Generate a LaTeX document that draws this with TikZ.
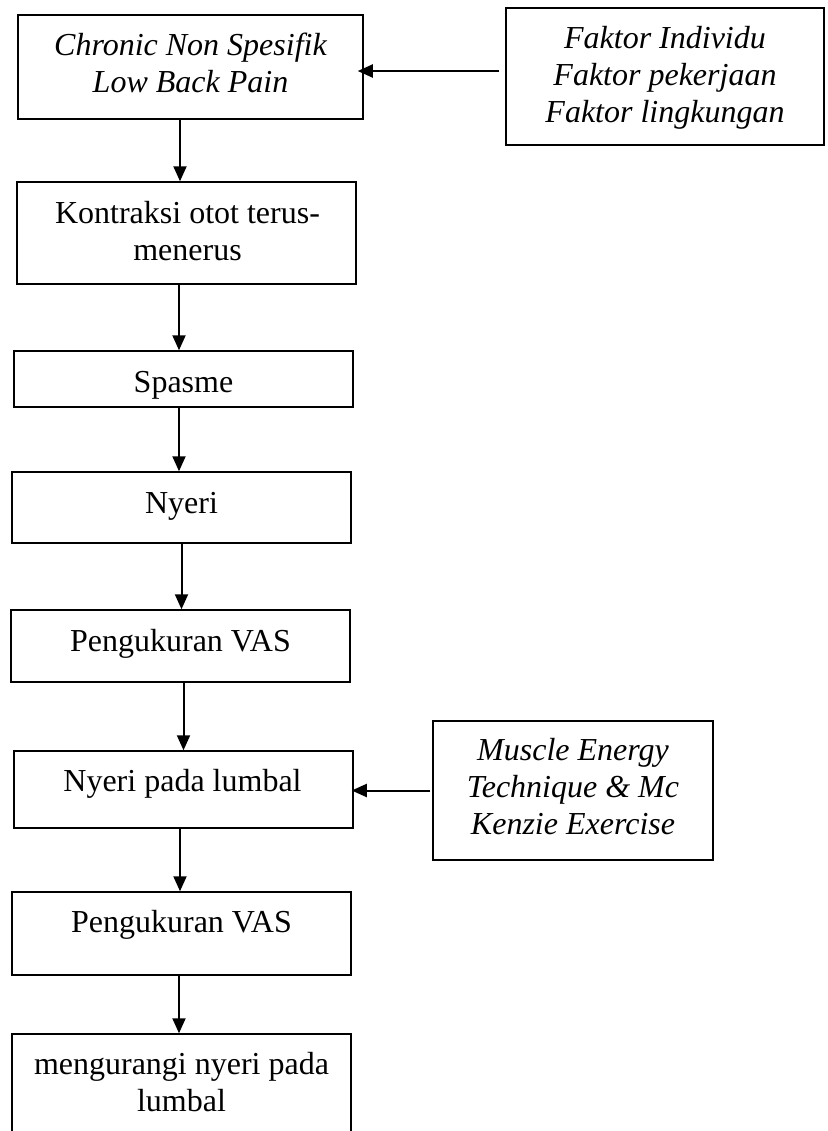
\documentclass[tikz,border=0pt]{standalone}
\usepackage{fontspec}
\setmainfont{Liberation Serif}
\usetikzlibrary{arrows.meta}
\begin{document}
\begin{tikzpicture}[x=0.5pt,y=-0.5pt,
  box/.style={draw=black, line width=0.75pt, rectangle, inner sep=0pt, minimum width=169.5pt},
  txt/.style={anchor=base, align=center, inner sep=0pt, font=\fontsize{16}{18.5}\selectfont},
  itxt/.style={txt, font=\fontsize{16}{18.5}\selectfont\itshape},
  arr/.style={line width=1pt, -{Triangle[length=7.5pt,width=6.5pt]}}]
\useasboundingbox (0,0) rectangle (828,1131);
\clip (0,0) rectangle (828,1131);
% boxes
\node[box, minimum width=172.5pt, minimum height=52pt] (b1) at (190.5,67) {};
\node[box, minimum width=159pt, minimum height=68.5pt] (f) at (665,76.5) {};
\node[box, minimum height=51pt] (b2) at (186.5,233) {};
\node[box, minimum height=28pt] (b3) at (183.5,379) {};
\node[box, minimum height=35.5pt] (b4) at (181.5,507.5) {};
\node[box, minimum height=36pt] (b5) at (180.5,646) {};
\node[box, minimum height=38.5pt] (b6) at (183.5,789.5) {};
\node[box, minimum width=140pt, minimum height=69.5pt] (m) at (573,790.5) {};
\node[box, minimum height=41.5pt] (b7) at (181.5,933.5) {};
\node[box, minimum height=58pt] (b8) at (181.5,1092) {};
% texts (base anchor = baseline of the last line)
\node[itxt] (t1) at (190.5,92) {Chronic Non Spesifik\\Low Back Pain};
\node[itxt] (tf) at (665,122) {Faktor Individu\\Faktor pekerjaan\\Faktor lingkungan};
\node[txt] (t2) at (187.5,260) {Kontraksi otot terus-\\menerus};
\node[txt] (t3) at (183.5,392) {Spasme};
\node[txt] (t4) at (181.5,513) {Nyeri};
\node[txt] (t5) at (180.5,651) {Pengukuran VAS};
\node[txt] (t6) at (182.5,791) {Nyeri pada lumbal};
\node[itxt] (tm) at (573,834) {Muscle Energy\\Technique \& Mc\\Kenzie Exercise};
\node[txt] (t7) at (181.5,932) {Pengukuran VAS};
\node[txt] (t8) at (181.5,1111) {mengurangi nyeri pada\\lumbal};
% arrows
\draw[arr] ([xshift=-3pt,yshift=2.75pt]f.west) -- ([xshift=-3pt,yshift=2.75pt]f.west -| b1.east);
\draw[arr] ([xshift=-1pt]m.west) -- ([xshift=-1pt]m.west -| b6.east);
\draw[arr] ([xshift=-5.25pt]b1.south) -- ([xshift=-5.25pt]b1.south |- b2.north);
\draw[arr] ([xshift=-3.75pt]b2.south) -- ([xshift=-3.75pt]b2.south |- b3.north);
\draw[arr] ([xshift=-2.25pt]b3.south) -- ([xshift=-2.25pt]b3.south |- b4.north);
\draw[arr] (b4.south) -- (b4.south |- b5.north);
\draw[arr] ([xshift=1.5pt]b5.south) -- ([xshift=1.5pt]b5.south |- b6.north);
\draw[arr] ([xshift=-1.75pt]b6.south) -- ([xshift=-1.75pt]b6.south |- b7.north);
\draw[arr] ([xshift=-1.25pt]b7.south) -- ([xshift=-1.25pt]b7.south |- b8.north);
\end{tikzpicture}
\end{document}
